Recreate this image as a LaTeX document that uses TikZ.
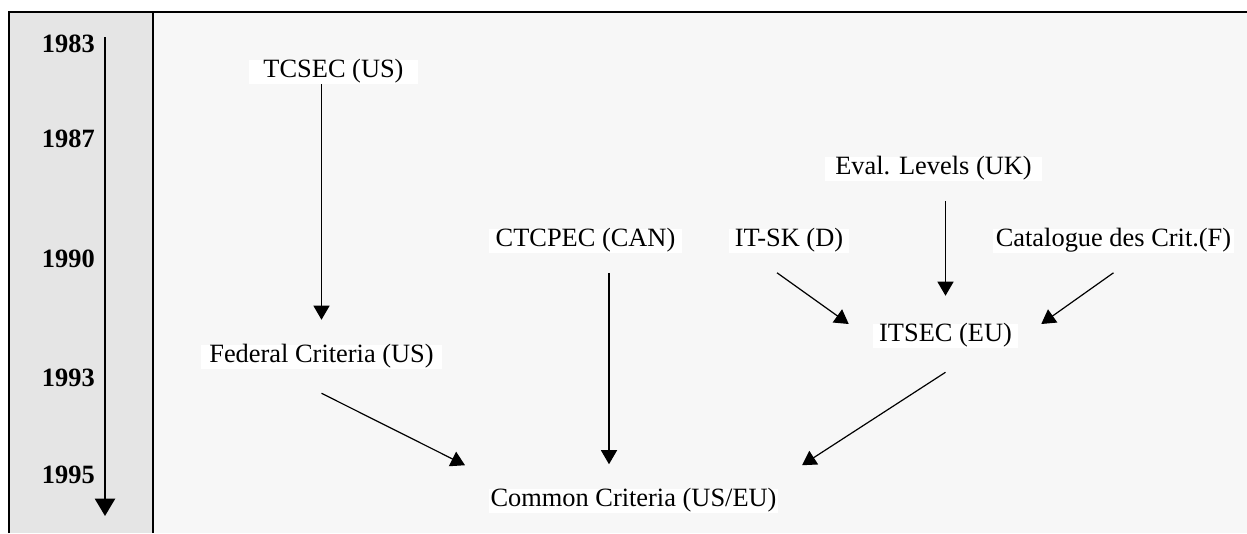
\documentclass[tikz,border=0pt]{standalone}
\usepackage{fontspec}
\setmainfont{Liberation Serif}
\usetikzlibrary{arrows.meta,calc}
\definecolor{colunagris}{HTML}{E5E5E5}
\definecolor{fundogris}{HTML}{F7F7F7}
\tikzset{
  caixa/.style={fill=white, inner sep=0pt, minimum width=#1, text height=13.3pt, text depth=4.7pt, font=\fontsize{19.8}{23}\selectfont},
  ano/.style={anchor=base east, inner sep=0pt, font=\fontsize{19.8}{23}\selectfont\bfseries},
  seta/.style={-{Triangle[length=10.5pt,width=12pt]}, line width=0.9pt},
}
\begin{document}
\begin{tikzpicture}[x=0.75pt,y=-0.75pt]
    \useasboundingbox (0,0) rectangle (1247,533);

    % Fundo e moldura
    \fill[fundogris] (153,12) rectangle (1247,533);
    \fill[colunagris] (9,12) rectangle (153,533);
    \draw[line width=0.9pt] (9,533) -- (9,12) -- (1247,12);
    \draw[line width=0.9pt] (153,12) -- (153,533);

    % Linha do tempo
    \coordinate (inicio) at (105,37);
    \coordinate (fim) at (105,516);
    \draw[line width=1.7pt, -{Triangle[length=13pt,width=15pt]}] (inicio) -- (fim);
    \node[ano] (a1983) at (95,52) {1983};
    \node[ano] (a1987) at (95,147) {1987};
    \node[ano] (a1990) at (95,267) {1990};
    \node[ano] (a1993) at (95,386) {1993};
    \node[ano] (a1995) at (95,483) {1995};

    % Criterios
    \node[caixa=126.75pt] (tcsec) at (333.5,72) {TCSEC (US)};
    \node[caixa=180.75pt] (fed) at (321.5,357) {Federal Criteria (US)};
    \node[caixa=144.75pt] (ctcpec) at (585.5,240.5) {CTCPEC (CAN)};
    \node[caixa=90pt] (itsk) at (789,240.5) {IT-SK (D)};
    \node[caixa=162.75pt] (eval) at (933.5,168.5) {Eval. Levels (UK)};
    \node[caixa=180.75pt] (catal) at (1113.5,240.5) {Catalogue des Crit.(F)};
    \node[caixa=108.75pt] (itsec) at (945.5,336) {ITSEC (EU)};
    \node[caixa=216.75pt] (cc) at (633.5,500.5) {Common Criteria (US/EU)};

    % Setas
    \draw[seta] (tcsec.south -| fed.north) -- ($(fed.north)+(0,-25)$);
    \draw[seta] ($(fed.south)+(0,24)$) -- ($(cc.north)+(-168.5,-23)$);
    \draw[seta] ($(ctcpec.south)+(23.5,20)$) -- ($(cc.north)+(-24.5,-24)$);
    \draw[seta] ($(itsk.south)+(-12,20)$) -- ($(itsec.west)+(-24,-12)$);
    \draw[seta] ($(eval.south -| itsec.north)+(0,20)$) -- ($(itsec.north)+(0,-28)$);
    \draw[seta] ($(catal.south)+(0,20)$) -- ($(itsec.east)+(23,-12)$);
    \draw[seta] ($(itsec.south)+(0,24)$) -- ($(cc.north)+(168.5,-23)$);
\end{tikzpicture}
\end{document}
